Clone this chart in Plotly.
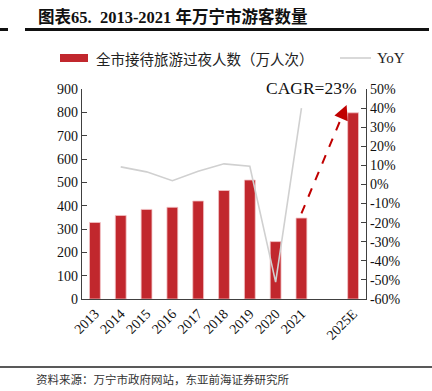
import plotly.graph_objects as go

categories = ["2013", "2014", "2015", "2016", "2017", "2018", "2019", "2020", "2021", " ", "2025E"]
visitors = [328, 358, 384, 393, 420, 465, 510, 246, 347, None, 798]
yoy = [None, 9.2, 6.6, 2.0, 6.9, 10.8, 9.5, -51.2, 40.0, None, None]
left_ticks = list(range(0, 901, 100))
right_ticks = list(range(-60, 51, 10))
title_text = "图表65.  2013-2021 年万宁市游客数量"
bar_name = "全市接待旅游过夜人数（万人次）"
line_name = "YoY"
cagr_text = "CAGR=23%"
source_text = "资料来源：万宁市政府网站，东亚前海证券研究所"

W, H = 432, 391
L, R, T, B = 82, 66, 89, 92
pw, ph = W - L - R, H - T - B


def px(x):
    return (x - L) / pw


def py(y):
    return (H - B - y) / ph


RED = "#C1272D"
GRAY = "#D0D0D0"
AXIS = "#404040"
SERIF = "Liberation Serif, Times New Roman, Noto Sans CJK SC, serif"
CJK = "Noto Sans CJK SC, sans-serif"

fig = go.Figure()
fig.add_trace(go.Bar(x=categories, y=visitors, name=bar_name, marker=dict(color=RED, line=dict(color="#F2C4C6", width=0.8)),
                     width=0.42, showlegend=False))
fig.add_trace(go.Scatter(x=categories, y=yoy, name=line_name, yaxis="y2", mode="lines",
                         line=dict(color=GRAY, width=1.6), connectgaps=False, showlegend=False))

# CAGR dashed arrow from 2021 bar to 2025E bar
i21 = categories.index("2021")
iE = categories.index("2025E")
tail = (i21, visitors[i21] + 20)
tip = (iE - 0.25, visitors[iE] + 33)
mid = (tail[0] + (tip[0] - tail[0]) * 0.93, tail[1] + (tip[1] - tail[1]) * 0.93)
shapes = [
    dict(type="line", xref="x", yref="y", x0=tail[0], y0=tail[1], x1=mid[0], y1=mid[1],
         line=dict(color="#C00000", width=2, dash="dash")),
    # title rule
    dict(type="rect", xref="paper", yref="paper", x0=px(25), x1=px(429), y0=py(31), y1=py(28),
         fillcolor="#111111", line=dict(width=0), layer="above"),
    dict(type="rect", xref="paper", yref="paper", x0=px(0), x1=px(8), y0=py(31), y1=py(28),
         fillcolor="#111111", line=dict(width=0), layer="above"),
    # bottom rule
    dict(type="line", xref="paper", yref="paper", x0=px(0), x1=px(432), y0=py(367), y1=py(367),
         line=dict(color="#222222", width=1.5)),
    # legend markers
    dict(type="rect", xref="paper", yref="paper", x0=px(60), x1=px(88), y0=py(62), y1=py(54),
         fillcolor=RED, line=dict(width=0)),
    dict(type="line", xref="paper", yref="paper", x0=px(340), x1=px(371), y0=py(58), y1=py(58),
         line=dict(color=GRAY, width=1.6)),
]

annotations = [
    dict(x=tip[0], y=tip[1], ax=mid[0], ay=mid[1], xref="x", yref="y", axref="x", ayref="y",
         showarrow=True, arrowhead=2, arrowsize=1.6, arrowwidth=1.8, arrowcolor="#C00000", text=""),
    dict(x=8.4, y=900, xref="x", yref="y", text=cagr_text, showarrow=False,
         font=dict(family=SERIF, size=17.5, color="#111111"), yanchor="bottom", yshift=-11),
    dict(x=px(36), y=py(17), xref="paper", yref="paper", xanchor="left", yanchor="middle",
         text="<b>" + title_text + "</b>", showarrow=False,
         font=dict(family=SERIF, size=16.5, color="#111111")),
    dict(x=px(94), y=py(58), xref="paper", yref="paper", xanchor="left", yanchor="middle",
         text=bar_name, showarrow=False, font=dict(family=CJK, size=14.5, color="#222222")),
    dict(x=px(375), y=py(58), xref="paper", yref="paper", xanchor="left", yanchor="middle",
         text=line_name, showarrow=False, font=dict(family=SERIF, size=15, color="#222222")),
    dict(x=px(34), y=py(379), xref="paper", yref="paper", xanchor="left", yanchor="middle",
         text=source_text, showarrow=False, font=dict(family=CJK, size=11.5, color="#333333")),
]

fig.update_layout(
    width=W, height=H,
    margin=dict(l=L, r=R, t=T, b=B),
    paper_bgcolor="white", plot_bgcolor="white",
    showlegend=False,
    bargap=0.55,
    shapes=shapes,
    annotations=annotations,
    xaxis=dict(type="category", categoryorder="array", categoryarray=categories,
               tickangle=-45, showgrid=False, showline=True, linecolor=AXIS, linewidth=1.2,
               ticks="", tickfont=dict(family=SERIF, size=14, color="#111111")),
    yaxis=dict(range=[0, 900], tickvals=left_ticks, showgrid=False, zeroline=False,
               showline=True, linecolor=AXIS, linewidth=1.2, ticks="inside", ticklen=5,
               tickcolor=AXIS, tickfont=dict(family=SERIF, size=14, color="#111111")),
    yaxis2=dict(range=[-60, 50], tickvals=right_ticks, ticktext=[f"{v}%" for v in right_ticks],
                overlaying="y", side="right", showgrid=False, zeroline=False,
                showline=True, linecolor=AXIS, linewidth=1.2, ticks="inside", ticklen=5,
                tickcolor=AXIS, tickfont=dict(family=SERIF, size=14, color="#111111")),
)

fig.write_html("out.html", config={"displayModeBar": False},
               post_script="document.body.style.margin='0';document.body.style.overflow='hidden';")
